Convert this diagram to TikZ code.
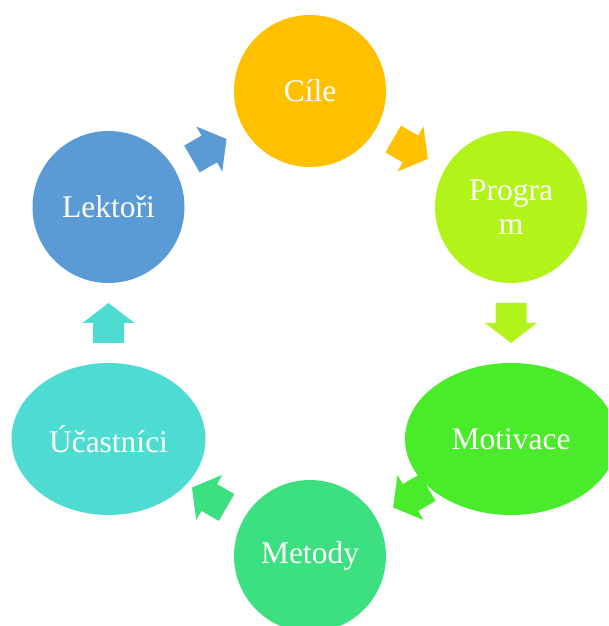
\documentclass[tikz,border=0pt]{standalone}
\usepackage{fontspec}
\setmainfont{Liberation Serif}
\usetikzlibrary{calc,shapes.geometric}
\definecolor{cCile}{RGB}{255,192,0}
\definecolor{cProg}{RGB}{178,244,26}
\definecolor{cMoti}{RGB}{74,235,42}
\definecolor{cMeto}{RGB}{61,224,128}
\definecolor{cUcas}{RGB}{77,219,210}
\definecolor{cLek}{RGB}{91,155,213}
\tikzset{
  bub/.style={circle, minimum size=152pt, inner sep=0pt, text=white,
    font=\fontsize{31.5}{34}\selectfont, align=center},
  ebub/.style={ellipse, minimum height=152pt, inner sep=0pt, text=white,
    font=\fontsize{31.5}{34}\selectfont, align=center},
}
\newcommand\blockarr[4]{%
  \fill[#4, shift={($(#1)!0.5!(#2)$)}, rotate=#3]
    (-20,-15.5) -- (0,-15.5) -- (0,-26) -- (20,0) -- (0,26) -- (0,15.5) -- (-20,15.5) -- cycle;}
\begin{document}
\begin{tikzpicture}[x=1pt,y=1pt]
\useasboundingbox (0,0) rectangle (608,626);
\clip (0,0) rectangle (608,626);
\node[bub, fill=cCile] (cil) at (310,535) {Cíle};
\node[bub, fill=cProg] (prog) at (511,419) {Progra\\m};
\node[ebub, fill=cMoti, minimum width=212pt] (moti) at (511,187) {Motivace};
\node[bub, fill=cMeto] (meto) at (310,70) {Metody};
\node[ebub, fill=cUcas, minimum width=194pt] (ucas) at (108.5,187) {Účastníci};
\node[bub, fill=cLek] (lek) at (108.5,419) {Lektoři};
\blockarr{lek}{cil}{30}{cLek}
\blockarr{cil}{prog}{-30}{cCile}
\blockarr{prog}{moti}{-90}{cProg}
\blockarr{moti}{meto}{-150}{cMoti}
\blockarr{meto}{ucas}{150}{cMeto}
\blockarr{ucas}{lek}{90}{cUcas}
\end{tikzpicture}
\end{document}
